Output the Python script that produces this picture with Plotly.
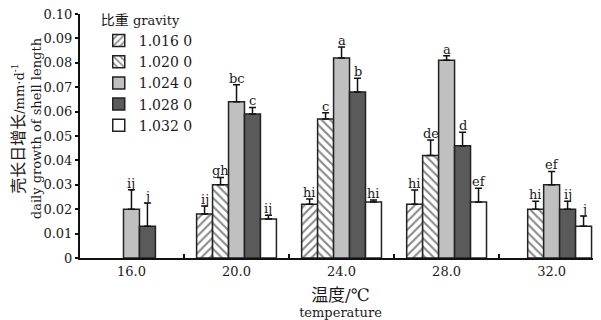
import plotly.graph_objects as go

temperatures = ["16.0", "20.0", "24.0", "28.0", "32.0"]
gravity_names = ["1.016 0", "1.020 0", "1.024 0", "1.028 0", "1.032 0"]

g1016 = [None, 0.018, 0.022, 0.022, None]
g1020 = [None, 0.030, 0.057, 0.042, 0.020]
g1024 = [0.020, 0.064, 0.082, 0.081, 0.030]
g1028 = [0.013, 0.059, 0.068, 0.046, 0.020]
g1032 = [None, 0.016, 0.023, 0.023, 0.013]

e1016 = [None, 0.0033, 0.0022, 0.0059, None]
e1020 = [None, 0.0030, 0.0025, 0.0064, 0.0033]
e1024 = [0.0080, 0.0070, 0.0045, 0.0019, 0.0055]
e1028 = [0.0095, 0.0027, 0.0057, 0.0055, 0.0033]
e1032 = [None, 0.0015, 0.0008, 0.0056, 0.0042]

l1016 = [None, "ij", "hi", "hi", None]
l1020 = [None, "gh", "c", "de", "hi"]
l1024 = ["ij", "bc", "a", "a", "ef"]
l1028 = ["j", "c", "b", "d", "ij"]
l1032 = [None, "ij", "hi", "ef", "j"]

y_ticks = [0, 0.01, 0.02, 0.03, 0.04, 0.05, 0.06, 0.07, 0.08, 0.09, 0.10]
y_ticktext = ["0", "0.01", "0.02", "0.03", "0.04", "0.05", "0.06", "0.07", "0.08", "0.09", "0.10"]

values = [g1016, g1020, g1024, g1028, g1032]
errors = [e1016, e1020, e1024, e1028, e1032]
letters = [l1016, l1020, l1024, l1028, l1032]

FONT = "DejaVu Serif, Noto Sans CJK SC, serif"
INK = "#1a1a1a"
OUTLINE = "#222222"
styles = [
    dict(color="white", pattern=dict(shape="/", fgcolor="#111111", bgcolor="white", size=6, solidity=0.35)),
    dict(color="white", pattern=dict(shape="\\", fgcolor="#111111", bgcolor="white", size=6, solidity=0.35)),
    dict(color="#c0c0c0"),
    dict(color="#5a5a5a"),
    dict(color="white"),
]

fig = go.Figure()
for name, vals, errs, st in zip(gravity_names, values, errors, styles):
    fig.add_trace(go.Bar(
        x=temperatures, y=vals, name=name,
        marker=dict(line=dict(color=OUTLINE, width=1.5), **st),
        error_y=dict(type="data", symmetric=False,
                     array=[e if e is not None else 0 for e in errs],
                     arrayminus=[0] * len(errs),
                     color="#111111", thickness=1.5, width=3.5),
    ))

bargap = 0.24
bw = (1 - bargap) / len(gravity_names)
for j, (vals, errs, labs) in enumerate(zip(values, errors, letters)):
    for i, (v, e, t) in enumerate(zip(vals, errs, labs)):
        if v is None or t is None:
            continue
        fig.add_annotation(
            x=i + (j - 2) * bw, y=v + e, text=t, showarrow=False,
            yanchor="bottom", xanchor="center", yshift=-3,
            font=dict(family=FONT, size=13, color=INK),
        )

y_title = ('<span style="font-size:16px">壳长日增长</span>/mm·d<sup>-1</sup>'
           '<br>daily growth of shell length')
x_title = ('<span style="font-size:17px">温度/℃</span>'
           '<br><span style="font-size:13px">temperature</span>')

# y-axis title drawn as a rotated annotation so it can sit close to the page edge
fig.add_annotation(
    xref="paper", yref="paper", x=0, y=0.53,
    xanchor="right", yanchor="middle", xshift=-35,
    textangle=-90, text=y_title, showarrow=False,
    font=dict(family=FONT, size=13, color=INK), borderpad=0,
)

# the page body adds an 8 px margin, so the figure is 8 px smaller than the window
fig.update_layout(
    width=593, height=312,
    margin=dict(l=72, r=0, t=6, b=62, autoexpand=False),
    paper_bgcolor="white", plot_bgcolor="white",
    barmode="group", bargap=bargap, bargroupgap=0,
    font=dict(family=FONT, size=13, color=INK),
    legend=dict(
        x=0.036, xanchor="left",
        yref="container", y=1.0, yanchor="top",
        bgcolor="rgba(0,0,0,0)",
        title=dict(text='<span style="font-size:14px">比重</span> gravity', font=dict(family=FONT, size=13)),
        font=dict(family=FONT, size=14),
        itemwidth=30,
    ),
    xaxis=dict(
        type="category", range=[-0.49, 4.47], automargin=False,
        showline=True, linecolor="#111111", linewidth=2,
        ticks="inside", tickson="boundaries", ticklen=4, tickwidth=1.5, tickcolor="#111111",
        showgrid=False, zeroline=False,
        tickfont=dict(family=FONT, size=13),
        title=dict(text=x_title, font=dict(family=FONT, size=12), standoff=17),
    ),
    yaxis=dict(
        range=[0, 0.1], tickvals=y_ticks, ticktext=y_ticktext, automargin=False,
        ticklabeloverflow="allow",
        showline=True, linecolor="#111111", linewidth=2,
        ticks="outside", ticklen=3, tickwidth=1.5, tickcolor="#111111",
        showgrid=False, zeroline=False,
        tickfont=dict(family=FONT, size=13),
    ),
)

fig.write_html("out.html")
